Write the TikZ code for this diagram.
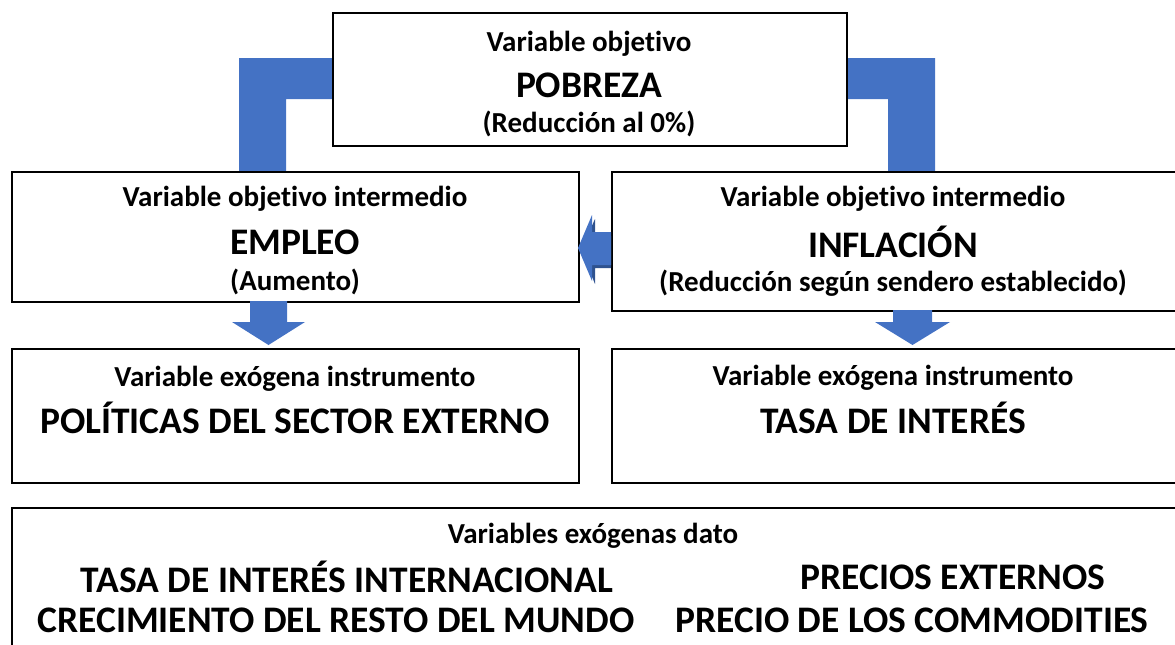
\documentclass[tikz,border=0pt]{standalone}
\usepackage{fontspec}
\setmainfont{Carlito}[Ligatures=NoCommon]
\definecolor{officeblue}{HTML}{4472C4}
\definecolor{darkblue}{HTML}{2F528F}
\begin{document}
\begin{tikzpicture}[x=1pt,y=-1pt,
  box/.style={draw=black,line width=1.6pt,fill=white,rectangle,anchor=north west,inner sep=0},
  lbl/.style={font=\fontsize{29}{34}\selectfont\bfseries,inner sep=0},
  big/.style={font=\fontsize{37.5}{44}\selectfont\bfseries,inner sep=0},
  bar/.style={fill=officeblue}]
\useasboundingbox (0,0) rectangle (1175,645);
\clip (0,0) rectangle (1175,645);
% L-shaped bars
\path[bar] (332,58) -- (239,58) -- (239,171) -- (286,171) -- (286,99) -- (332,99) -- cycle;
\path[bar] (846,58) -- (935,58) -- (935,171) -- (888,171) -- (888,99) -- (846,99) -- cycle;
% boxes
\node[box,minimum width=514pt,minimum height=133pt] (top) at (332,12) {};
\node[box,minimum width=567pt,minimum height=130pt] (ml) at (11,171) {};
\node[box,minimum width=580pt,minimum height=139pt] (mr) at (611,171) {};
\node[box,minimum width=567pt,minimum height=134pt] (bl) at (11,348) {};
\node[box,minimum width=580pt,minimum height=134pt] (br) at (611,348) {};
\node[box,minimum width=1180pt,minimum height=160pt] (bot) at (11,507) {};
% left arrow between middle boxes
\path[fill=darkblue] (611,236) -- (595,236) -- (595,219) -- (581,250) -- (595,284) -- (595,268) -- (611,268) -- cycle;
\path[bar] (611,232) -- (592,232) -- (592,215) -- (578,248) -- (592,281) -- (592,265) -- (611,265) -- cycle;
% down arrows
\path[bar] (250,301) -- (250,322) -- (232,322) -- (268.5,345) -- (305,322) -- (287,322) -- (287,301) -- cycle;
\path[bar] (893,310) -- (893,322) -- (875,322) -- (912.5,345) -- (950,322) -- (932,322) -- (932,310) -- cycle;
% texts
\node[lbl] (t1) at (589,44) {Variable objetivo};
\node[big] (t2) at (589,85) {POBREZA};
\node[lbl] (t3) at (589,124) {(Reducción al 0\%)};
\node[lbl] (m1) at (295,199) {Variable objetivo intermedio};
\node[big] (m2) at (295,242) {EMPLEO};
\node[lbl] (m3) at (295,282) {(Aumento)};
\node[lbl] (r1) at (893,199) {Variable objetivo intermedio};
\node[big] (r2) at (893,242) {INFLACIÓN};
\node[lbl] (r3) at (893,283) {(Reducción según sendero establecido)};
\node[lbl] (b1) at (295,379) {Variable exógena instrumento};
\node[big] (b2) at (295,418) {POLÍTICAS DEL SECTOR EXTERNO};
\node[lbl] (c1) at (893,378) {Variable exógena instrumento};
\node[big] (c2) at (893,418) {TASA DE INTERÉS};
\node[lbl] (d0) at (593,536) {Variables exógenas dato};
\node[big] (d1) at (347,577) {TASA DE INTERÉS INTERNACIONAL};
\node[big] (d2) at (336,620) {CRECIMIENTO DEL RESTO DEL MUNDO};
\node[big] (d3) at (953,577) {PRECIOS EXTERNOS};
\node[big] (d4) at (912,620) {PRECIO DE LOS COMMODITIES};
\end{tikzpicture}
\end{document}
